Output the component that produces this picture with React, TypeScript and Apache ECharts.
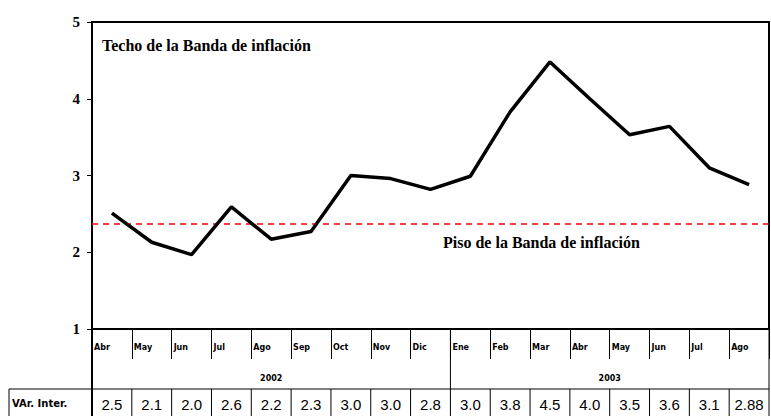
import React, { useEffect, useRef } from "react";
import * as echarts from "echarts";

const months = ["Abr", "May", "Jun", "Jul", "Ago", "Sep", "Oct", "Nov", "Dic", "Ene", "Feb", "Mar", "Abr", "May", "Jun", "Jul", "Ago"];
const categoryKeys = months.map((m, i) => (i < 9 ? m + " 2002" : m + " 2003"));
const inflation = [2.51, 2.13, 1.97, 2.59, 2.17, 2.27, 3.0, 2.96, 2.82, 2.99, 3.83, 4.48, 4.0, 3.53, 3.64, 3.1, 2.88];
const tableValues = ["2.5", "2.1", "2.0", "2.6", "2.2", "2.3", "3.0", "3.0", "2.8", "3.0", "3.8", "4.5", "4.0", "3.5", "3.6", "3.1", "2.88"];
const yearGroups = [
  { label: "2002", from: 0, to: 9 },
  { label: "2003", from: 9, to: 17 },
];
const bandFloor = 2.37;
const tableLabel = "VAr. Inter.";
const ceilingText = "Techo de la Banda de inflación";
const floorText = "Piso de la Banda de inflación";

export default function App() {
  const ref = useRef<HTMLDivElement>(null);
  useEffect(() => {
    if (!ref.current) return;
    const chart = echarts.init(ref.current, null, { renderer: "svg" });
    const serif = "'Liberation Serif', 'Times New Roman', serif";
    const sans = "'Liberation Sans', Arial, sans-serif";
    const dsans = "'DejaVu Sans', sans-serif";
    chart.setOption({
      animation: false,
      backgroundColor: "#ffffff",
      grid: {
        left: 92,
        top: 22,
        right: 2,
        bottom: 87,
        show: true,
        borderColor: "#000",
        borderWidth: 2,
        backgroundColor: "transparent",
      },
      xAxis: {
        type: "category",
        data: categoryKeys,
        boundaryGap: true,
        axisLine: { lineStyle: { color: "#000", width: 2 } },
        axisTick: { show: true, interval: 0, length: 30, lineStyle: { color: "#000", width: 1 } },
        axisLabel: { show: false },
        splitLine: { show: false },
      },
      yAxis: {
        type: "value",
        min: 1,
        max: 5,
        interval: 1,
        axisLine: { show: true, lineStyle: { color: "#000", width: 2 } },
        axisTick: { show: true, length: 5, lineStyle: { color: "#000", width: 1 } },
        axisLabel: { color: "#000", fontFamily: serif, fontSize: 15, fontWeight: "bold", margin: 12 },
        splitLine: { show: false },
      },
      series: [
        {
          type: "line",
          data: inflation,
          symbol: "none",
          z: 5,
          lineStyle: { color: "#000", width: 3.5 },
          markLine: {
            silent: true,
            symbol: "none",
            label: { show: false },
            lineStyle: { color: "#ff0000", type: [6, 5], width: 1.5 },
            data: [{ yAxis: bandFloor }],
          },
        },
      ],
    });

    const bx = (i: number) => {
      const c0 = chart.convertToPixel({ xAxisIndex: 0 }, 0) as number;
      const c1 = chart.convertToPixel({ xAxisIndex: 0 }, 1) as number;
      const bw = c1 - c0;
      return c0 - bw / 2 + bw * i;
    };
    const yBottom = chart.convertToPixel({ yAxisIndex: 0 }, 1) as number;
    const n = months.length;
    const tableTop = 389;
    const pageBottom = 416;
    const lineStyle = { stroke: "#000", lineWidth: 1 };
    const g: any[] = [];

    months.forEach((m, i) => {
      g.push({
        type: "text",
        x: bx(i) + 2,
        y: yBottom + 18,
        style: { text: m, fill: "#000", font: `bold 8px ${dsans}`, textVerticalAlign: "middle", textAlign: "left" },
      });
    });
    yearGroups.forEach((yg) => {
      g.push({
        type: "text",
        x: (bx(yg.from) + bx(yg.to)) / 2,
        y: yBottom + 49,
        style: { text: yg.label, fill: "#000", font: `bold 8px ${dsans}`, textVerticalAlign: "middle", textAlign: "center" },
      });
    });
    g.push({ type: "line", shape: { x1: bx(0), y1: yBottom, x2: bx(0), y2: pageBottom }, style: { stroke: "#000", lineWidth: 2 } });
    g.push({ type: "line", shape: { x1: bx(9), y1: yBottom, x2: bx(9), y2: tableTop }, style: lineStyle });
    g.push({ type: "line", shape: { x1: bx(n), y1: yBottom, x2: bx(n), y2: pageBottom }, style: lineStyle });
    g.push({ type: "line", shape: { x1: 9, y1: tableTop, x2: bx(n), y2: tableTop }, style: lineStyle });
    g.push({ type: "line", shape: { x1: 9, y1: tableTop, x2: 9, y2: pageBottom }, style: lineStyle });
    for (let i = 1; i < n; i++) {
      g.push({ type: "line", shape: { x1: bx(i), y1: tableTop, x2: bx(i), y2: pageBottom }, style: lineStyle });
    }
    tableValues.forEach((v, i) => {
      g.push({
        type: "text",
        x: (bx(i) + bx(i + 1)) / 2,
        y: tableTop + 15,
        style: { text: v, fill: "#000", font: `15px ${sans}`, textVerticalAlign: "middle", textAlign: "center" },
      });
    });
    g.push({
      type: "text",
      x: 12,
      y: tableTop + 14,
      style: { text: tableLabel, fill: "#000", font: `bold 10px ${dsans}`, textVerticalAlign: "middle", textAlign: "left" },
    });
    g.push({
      type: "text",
      x: 102,
      y: 45,
      style: { text: ceilingText, fill: "#000", font: `bold 16px ${serif}`, textVerticalAlign: "middle", textAlign: "left" },
    });
    g.push({
      type: "text",
      x: 443,
      y: 242,
      style: { text: floorText, fill: "#000", font: `bold 16px ${serif}`, textVerticalAlign: "middle", textAlign: "left" },
    });
    chart.setOption({ graphic: g });

    return () => chart.dispose();
  }, []);
  return <div ref={ref} style={{ position: "fixed", left: 0, top: 0, width: 771, height: 416, background: "#fff" }} />;
}
